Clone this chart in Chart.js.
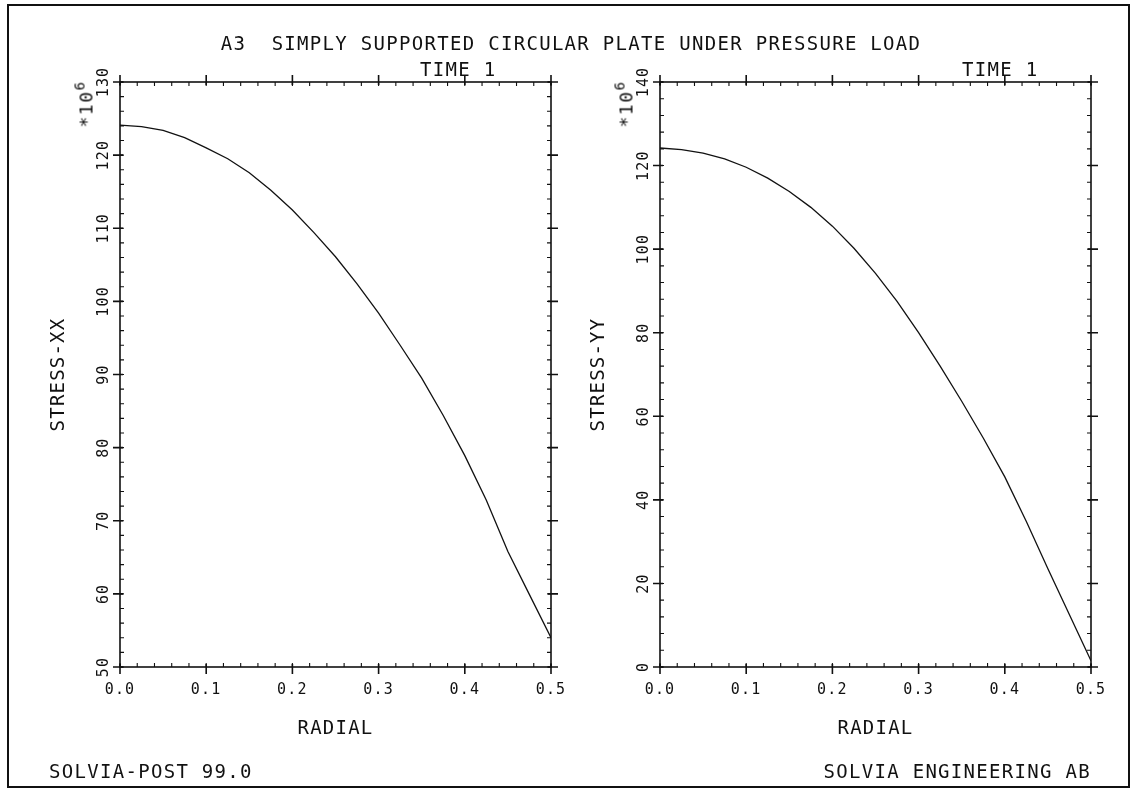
<!DOCTYPE html>
<html>
<head>
<meta charset="utf-8">
<script src="https://cdn.jsdelivr.net/npm/chart.js@4.4.0/dist/chart.umd.min.js"></script>
<style>
  body { margin: 0; background: #fff; width: 1135px; height: 792px; position: relative; overflow: hidden;
         font-family: "DejaVu Sans Mono", monospace; color: #111; }
  .frame { position: absolute; left: 7px; top: 4px; width: 1123px; height: 784px; border: 2px solid #111; box-sizing: border-box; }
  canvas { position: absolute; top: 0; }
  .t { position: absolute; font-size: 19px; line-height: 19px; letter-spacing: 1.3px; white-space: pre; }
  .mult { position: absolute; font-size: 18px; line-height: 18px; letter-spacing: 1.5px; white-space: nowrap;
          transform: translate(-50%, -50%) rotate(-90deg); }
  .mult sup { font-size: 14px; vertical-align: 8px; }
</style>
</head>
<body>
<div class="frame"></div>
<canvas id="plotXX" width="580" height="792" style="left:0"></canvas>
<canvas id="plotYY" width="580" height="792" style="left:540px"></canvas>

<div class="t" style="left:571px;top:34px;transform:translateX(-50%)">A3  SIMPLY SUPPORTED CIRCULAR PLATE UNDER PRESSURE LOAD</div>
<div class="t" style="left:420px;top:60px">TIME 1</div>
<div class="t" style="left:962px;top:60px">TIME 1</div>
<div class="mult" style="left:83px;top:104px">*10<sup>6</sup></div>
<div class="mult" style="left:623px;top:104px">*10<sup>6</sup></div>
<div class="t" style="left:49px;top:762px">SOLVIA-POST 99.0</div>
<div class="t" style="right:44px;top:762px">SOLVIA ENGINEERING AB</div>

<script>
// valeurs (contraintes en unités de 10^6)
const radial = [0, 0.025, 0.05, 0.075, 0.1, 0.125, 0.15, 0.175, 0.2, 0.225, 0.25,
                0.275, 0.3, 0.325, 0.35, 0.375, 0.4, 0.425, 0.45, 0.475, 0.5];
const stressXX = [124.1, 123.9, 123.4, 122.4, 121.0, 119.5, 117.6, 115.2, 112.5, 109.4, 106.1,
                  102.4, 98.4, 94.0, 89.5, 84.4, 78.9, 72.8, 65.8, 59.9, 54.0];
const stressYY = [124.2, 123.8, 123.0, 121.6, 119.6, 117.0, 113.8, 110.0, 105.5, 100.2, 94.2,
                  87.5, 80.0, 72.0, 63.6, 54.8, 45.5, 34.8, 23.5, 12.5, 1.5];

// axes
const xRange = [0, 0.5];
const xStep = 0.1, xMinor = 0.02;
const yRangeXX = [50, 130], yStepXX = 10, yMinorXX = 2;
const yRangeYY = [0, 140], yStepYY = 20, yMinorYY = 4;

const INK = '#111';
const FONT = 'DejaVu Sans Mono';

// cadre + graduations majeures et mineures, comme sur le traceur
const frameTicks = {
  id: 'frameTicks',
  beforeLayout(c) { c.ctx.letterSpacing = '1.2px'; },
  beforeDraw(c) { c.ctx.letterSpacing = '1.2px'; },
  afterDatasetsDraw(c, args, opts) {
    const { ctx, chartArea: a, scales: { x, y } } = c;
    ctx.save();
    ctx.strokeStyle = INK;
    ctx.lineWidth = 1.6;
    ctx.strokeRect(a.left, a.top, a.width, a.height);

    ctx.beginPath();
    x.ticks.forEach(t => {
      const p = x.getPixelForValue(t.value);
      ctx.moveTo(p, a.bottom + 7); ctx.lineTo(p, a.bottom - 3);
      ctx.moveTo(p, a.top - 7); ctx.lineTo(p, a.top + 3);
    });
    y.ticks.forEach(t => {
      const p = y.getPixelForValue(t.value);
      ctx.moveTo(a.left - 7, p); ctx.lineTo(a.left + 3, p);
      ctx.moveTo(a.right + 7, p); ctx.lineTo(a.right - 3, p);
    });
    ctx.stroke();

    ctx.lineWidth = 1.1;
    ctx.beginPath();
    const nx = Math.round((x.max - x.min) / opts.xMinor);
    for (let i = 0; i <= nx; i++) {
      const p = x.getPixelForValue(x.min + i * opts.xMinor);
      ctx.moveTo(p, a.bottom); ctx.lineTo(p, a.bottom - 4);
      ctx.moveTo(p, a.top); ctx.lineTo(p, a.top + 4);
    }
    const ny = Math.round((y.max - y.min) / opts.yMinor);
    for (let i = 0; i <= ny; i++) {
      const p = y.getPixelForValue(y.min + i * opts.yMinor);
      ctx.moveTo(a.left, p); ctx.lineTo(a.left + 4, p);
      ctx.moveTo(a.right, p); ctx.lineTo(a.right - 4, p);
    }
    ctx.stroke();
    ctx.restore();
  }
};

function makePlot(id, yTitle, values, yRange, yStep, yMinor) {
  const pts = radial.map((r, i) => ({ x: r, y: values[i] }));
  return new Chart(document.getElementById(id).getContext('2d'), {
    type: 'line',
    data: {
      datasets: [{
        data: pts,
        borderColor: INK,
        borderWidth: 1.3,
        pointRadius: 0,
        tension: 0,
        fill: false
      }]
    },
    options: {
      responsive: false,
      animation: false,
      devicePixelRatio: 1,
      layout: { padding: { top: 82, right: 29, bottom: 45, left: 0 } },
      plugins: {
        legend: { display: false },
        tooltip: { enabled: false },
        frameTicks: { xMinor: xMinor, yMinor: yMinor }
      },
      scales: {
        x: {
          type: 'linear',
          min: xRange[0],
          max: xRange[1],
          grid: { display: false },
          border: { display: false },
          afterFit: s => { s.height = 80; },
          ticks: {
            stepSize: xStep,
            autoSkip: false,
            maxRotation: 0,
            padding: 6,
            color: INK,
            font: { family: FONT, size: 15 },
            callback: v => v.toFixed(1)
          },
          title: {
            display: true,
            text: 'RADIAL',
            color: INK,
            font: { family: FONT, size: 19, lineHeight: 1 },
            padding: { top: 0, bottom: 8.5 }
          }
        },
        y: {
          type: 'linear',
          min: yRange[0],
          max: yRange[1],
          grid: { display: false },
          border: { display: false },
          afterFit: s => { s.width = 120; },
          ticks: {
            stepSize: yStep,
            minRotation: 90,
            maxRotation: 90,
            crossAlign: 'center',
            padding: -7,
            color: INK,
            font: { family: FONT, size: 15 }
          },
          title: {
            display: true,
            text: yTitle,
            color: INK,
            font: { family: FONT, size: 19, lineHeight: 1 },
            padding: { top: 49.5, bottom: 0 }
          }
        }
      }
    },
    plugins: [frameTicks]
  });
}

makePlot('plotXX', 'STRESS-XX', stressXX, yRangeXX, yStepXX, yMinorXX);
makePlot('plotYY', 'STRESS-YY', stressYY, yRangeYY, yStepYY, yMinorYY);
</script>
</body>
</html>
